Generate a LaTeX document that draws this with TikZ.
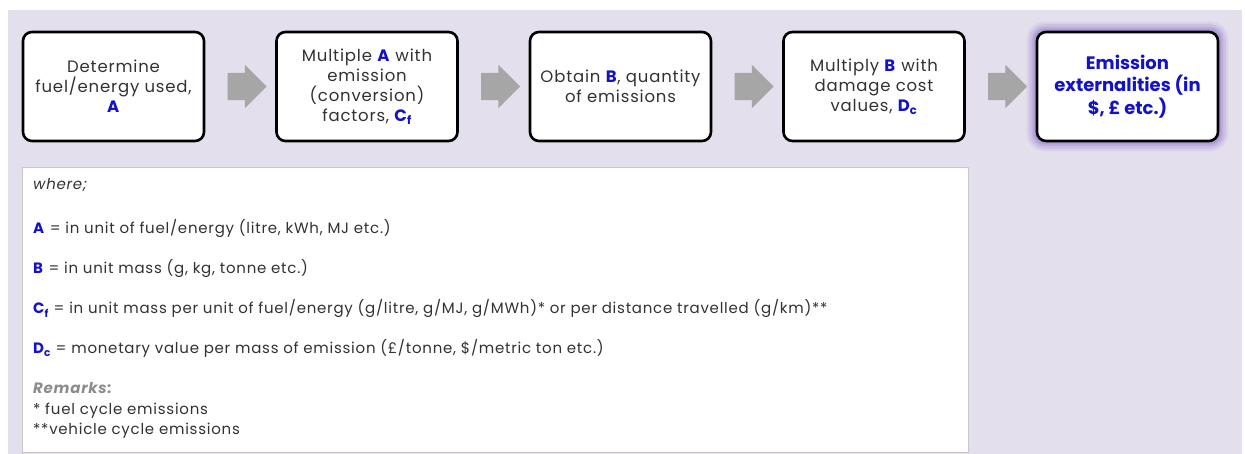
\documentclass[tikz,border=0pt]{standalone}
\usepackage{fontspec}
\setmainfont[LetterSpace=5]{Poppins}
\newfontfamily\resultfont{Poppins}
\usetikzlibrary{positioning}
\usetikzlibrary{shapes.arrows}
\usetikzlibrary{calc}
\usetikzlibrary{backgrounds}

\definecolor{panelbg}{RGB}{228,223,236}
\definecolor{keyblue}{RGB}{18,18,200}
\definecolor{bodytext}{RGB}{50,50,50}
\definecolor{remarkgray}{RGB}{140,140,140}
\definecolor{arrowgray}{RGB}{166,166,166}
\definecolor{notesedge}{RGB}{200,200,200}
\definecolor{glowc}{RGB}{150,120,205}

\newcommand{\hl}[1]{\textcolor{keyblue}{\textbf{#1}}}

\begin{document}
\begin{tikzpicture}[x=1pt,y=1pt,node distance=253.5pt,on grid,
    stepbox/.style={draw=black,line width=2.6pt,rounded corners=9pt,fill=white,
      minimum width=181pt,minimum height=109pt,align=center,text=bodytext,
      font=\fontsize{16.5}{20}\selectfont},
    resultbox/.style={stepbox,text=keyblue,font=\resultfont\fontsize{18}{22.5}\selectfont\bfseries},
    flowarrow/.style={single arrow,fill=arrowgray,draw=none,inner xsep=0pt,
      inner ysep=13.5pt,minimum height=39pt,single arrow head extend=8pt},
    noteline/.style={anchor=base west,inner sep=0pt,text=bodytext,
      font=\fontsize{15}{18}\selectfont}]

  \useasboundingbox (0,0) rectangle (1245,454);

  \node[stepbox]   (fuel) at (113.5,367.5)    {Determine\\fuel/energy used,\\\hl{A}};
  \node[stepbox]   (factor)  [right=of fuel]  {Multiple \hl{A} with\\emission\\(conversion)\\factors, \hl{C\textsubscript{f}}};
  \node[stepbox]   (qty)     [right=of factor] {Obtain \hl{B}, quantity\\of emissions};
  \node[stepbox]   (damage)  [right=of qty]   {Multiply \hl{B} with\\damage cost\\values, \hl{D\textsubscript{c}}};
  \node[resultbox] (extern)  [right=of damage] {Emission\\externalities (in\\\$, £ etc.)};

  \node[flowarrow] (a1) at ($(fuel.east)!0.5!(factor.west)$) {};
  \node[flowarrow] (a2) at ($(factor.east)!0.5!(qty.west)$) {};
  \node[flowarrow] (a3) at ($(qty.east)!0.5!(damage.west)$) {};
  \node[flowarrow] (a4) at ($(damage.east)!0.5!(extern.west)$) {};

  % legend panel
  \draw[notesedge,fill=white,line width=1pt] (22,1.5) rectangle (968,286);
  \node[noteline] (where) at (33,264) {\itshape where;};
  \node[noteline] (defa)  at (33,220) {\hl{A} = in unit of fuel/energy (litre, kWh, MJ etc.)};
  \node[noteline] (defb)  at (33,180) {\hl{B} = in unit mass (g, kg, tonne etc.)};
  \node[noteline] (defc)  at (33,140) {\hl{C\textsubscript{f}} = in unit mass per unit of fuel/energy (g/litre, g/MJ, g/MWh)* or per distance travelled (g/km)**};
  \node[noteline] (defd)  at (33,100) {\hl{D\textsubscript{c}} = monetary value per mass of emission (£/tonne, \$/metric ton etc.)};
  \node[noteline,text=remarkgray] (rem) at (33,60) {\bfseries\itshape Remarks:};
  \node[noteline] (rem1)  at (33,39) {* fuel cycle emissions};
  \node[noteline] (rem2)  at (33,19) {**vehicle cycle emissions};

  \begin{pgfonlayer}{background}
    \fill[panelbg] (8,0) rectangle (1242,444);
    \foreach \g/\o in {18/0.12,13/0.18,8/0.25,4/0.35}
      \draw[glowc,opacity=\o,line width=\g pt,rounded corners=9pt]
        (extern.south west) rectangle (extern.north east);
  \end{pgfonlayer}
\end{tikzpicture}
\end{document}
